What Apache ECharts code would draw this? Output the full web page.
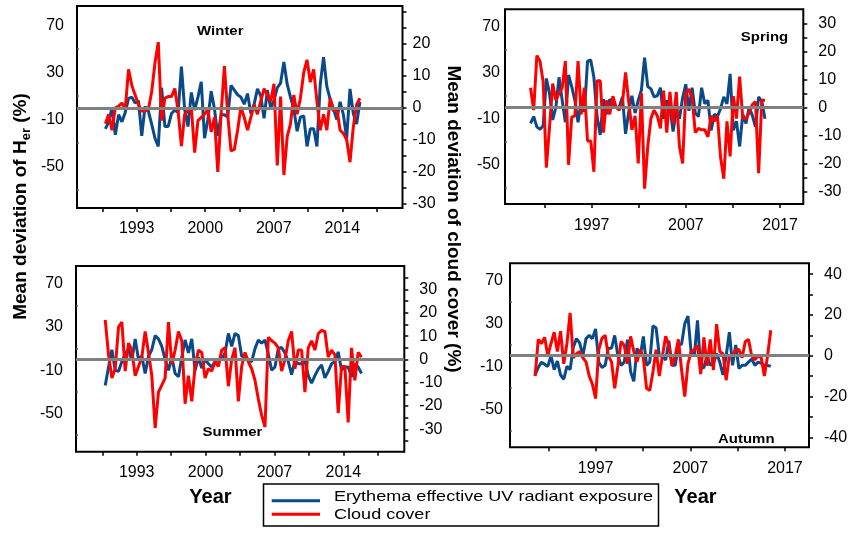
<!DOCTYPE html>
<html><head><meta charset="utf-8">
<script src="https://cdn.jsdelivr.net/npm/echarts@6/dist/echarts.min.js"></script>
<style>html,body{margin:0;padding:0;background:#fff}#c{width:851px;height:533px}</style>
</head><body><div id="c"></div>
<script>
const FONT = "'Liberation Sans', Arial, sans-serif";
const BLUE = '#0B4A8A', RED = '#FF0000';

// ---- data ----
const seriesNames = ['Erythema effective UV radiant exposure', 'Cloud cover'];
const panelTitles = ['Winter', 'Spring', 'Summer', 'Autumn'];

const winterSpan = [1989.8, 2015.8];
const winterUV = [-18,-12,0,-23,-6,-12,-4,8,9,4, 6,-24,1,-3,-14,-26,-33,17,-16,-16, -5,-2,-4,35,-2,-16,13,-2,9,22, -26,-10,14,-1,-24,-6,-6,-8,19,15, 11,9,3,12,-5,3,16,10,-9,15, 0,6,17,21,39,20,9,-1,-20,-8, -7,-33,-18,-18,-33,20,43,18,7,-1, -10,5,-6,-26,16,-5,-14,5];
const winterCloud = [-5,-2,-7,0,0.5,1.5,-0.5,12,7,4, 1,-1,-1,-0.5,5,14,20.5,-4,3,3.5, 3.5,6,-1,-12,-2,-1,0,-14,-4,-3, -2,-0.5,-7.5,-3,-20,-2,13,-2,-13.5,-13, -7,0.3,-3,-7,-3,1,-2,2,6,4, 2,7.5,-18,3.5,-21,-9,-5,4,-2,3, 11,15,8,12,2,-7,-2,-7,3,-1, 0,-7,-8,-10,-17,-6,1,3];

const springSpan = [1990.5, 2015.4];
const springUV = [-14,-8,-17,-19,-16,25,12,-11,0,26, 6,-13,28,18,6,-13,6,-4,40,41, 26,-8,-24,7,-6,7,3,0,0,9, -23,-4,10,-5,6,15,43,18,16,9, 10,17,-10,6,0,-21,-3,-10,8,20, -3,17,-5,-8,17,3,6,-20,-6,-8, -1,9,3,29,-20,-12,-34,-6,-14,0, -7,-17,9,5,-10];
const springCloud = [7,-1,18.5,16.5,9,-21.5,-7,8.5,2.5,5, 7,16.5,-20.5,-3.5,-3,16.5,-2.5,7,-12,-12, -23,9.5,9.5,-9,2.5,-2.5,4,0,-1,1.5, 12.5,2,-8,-3,-20,5,-29,-14,-4,-1, -3,-7.5,6,-9,5.5,-6,5.5,-14,-20,5, 6.5,3.5,-9,-7.5,-8,-8,-10.5,-3,-5,-3, -18,-25.5,-5,-17.5,4,-4,11,-4,-4,-2, 1,2,-23.5,2.5,2.5];

const summerSpan = [1989.8, 2015.85];
const summerUV = [-24,-7,9,-10,-11,-2,5,10,-1,19, 0,3,-13,3,9,22,19,12,0,-10, 2,-13,-16,2,18,6,19,-10,2,-8, 0,-4,-7,-2,0,0,6,24,12,24, 22,3,3,-1,-2,10,18,15,18,5, -10,-7,10,11,6,-2,-14,-1,-4,-4, -1,-15,-22,-15,-9,-5,-17,-11,-4,-2, 7,-10,-7,-7,-16,-4,-7,-13];
const summerCloud = [17,2,-8,-4,14,16,-5,7,4,-7, -3,1,12,3,-7,-29.5,-14,-11,-8,16, -2,4,12,8,-19,-7,-18,-3,4,3, -8,-4,-5,-1,-3,4,5,-11.5,0,5, -18,-3,3,-1,-4,-9,-17,-24,-29,9.5, 8,7,5,-5,0,8,12,-4,4,4, -14,5,8,4,11,12.5,12,1,4,2, -23,-3,-3,-27,5,-9,3,1];

const autumnSpan = [1990.6, 2015.5];
const autumnUV = [-18,-11,-6,-8,-10,0,-13,-5,-18,-22, -10,-13,8,16,12,0,16,19,16,25, -6,-11,-9,7,7,19,0,-9,-6,15, -15,-24,7,-1,18,-9,-6,28,26,0, 0,-4,14,-9,-9,10,11,30,37,3, 0,33,-12,-11,0,-9,-7,2,-6,-18, 0,22,-9,10,-12,-9,-9,-6,-3,-9, -6,-7,-9,-9,-10];
const autumnCloud = [-10,8,6,9,0,6,11.5,2,12,-4, 6,21,-1,1,2,-1,-3,-10,-14,-21, 3,8.5,10,0,-3,-16,-5,7,5,-4, 9.5,2,-3,3,-1,-16,-17,-8,3,-10, 0,9.5,5,-5,0,8,-7,-20,-4,2, 3,5,-9,9,-5,8,-7,15.5,2,1, -12,0,0,3,3,-1,7,8,0,-2, 0,-1,-10,0,12.5];

// tick labels
const xTicksA = [1989.5,1993,1996.5,2000,2003.5,2007,2010.5,2014,2017.5];
const xLabelsA = [1993,2000,2007,2014];
const xTicksB = [1992,1997,2002,2007,2012,2017];
const xLabelsB = [1997,2007,2017];
const leftLabels = [70,30,-10,-50];
const leftTicks = [50,10,-30,-70];
const winterRightLabels = [20,10,0,-10,-20,-30];
const springRightLabels = [30,20,10,0,-10,-20,-30];
const summerRightLabels = [30,20,10,0,-10,-20,-30];
const autumnRightLabels = [40,20,0,-20,-40];
const winterRightTicks = [-30,-25,-20,-15,-10,-5,0,5,10,15,20,25,30];
const springRightTicks = [-30,-25,-20,-15,-10,-5,0,5,10,15,20,25,30];
const summerRightTicks = [-35,-30,-25,-20,-15,-10,-5,0,5,10,15,20,25,30,35];
const autumnRightTicks = [-40,-30,-20,-10,0,10,20,30,40];

// ---- layout ----
const panels = [
  {uv: winterUV, cloud: winterCloud, span: winterSpan,
   grid: {left: 77, top: 6, width: 325.5, height: 202},
   x: [1986.9, 2020.15], xt: xTicksA, xl: xLabelsA,
   yl: [-85.4, 86.6], yr: [-31.3, 31.8], rl: winterRightLabels, rt: winterRightTicks,
   lm: 13, rm: 10, xm: 13},
  {uv: springUV, cloud: springCloud, span: springSpan,
   grid: {left: 505, top: 9.3, width: 298.3, height: 194.7},
   x: [1987.79, 2019.47], xt: xTicksB, xl: xLabelsB,
   yl: [-83.9, 85], yr: [-34.5, 35], rl: springRightLabels, rt: springRightTicks,
   lm: 5, rm: 15, xm: 14},
  {uv: summerUV, cloud: summerCloud, span: summerSpan,
   grid: {left: 76, top: 266, width: 328.3, height: 185.7},
   x: [1986.83, 2020.2], xt: xTicksA, xl: xLabelsA,
   yl: [-85.2, 86.3], yr: [-39.6, 40.1], rl: summerRightLabels, rt: summerRightTicks,
   lm: 13, rm: 15, xm: 13},
  {uv: autumnUV, cloud: autumnCloud, span: autumnSpan,
   grid: {left: 510, top: 263.3, width: 299, height: 184},
   x: [1987.95, 2019.54], xt: xTicksB, xl: xLabelsB,
   yl: [-85.6, 86.4], yr: [-44.9, 45.3], rl: autumnRightLabels, rt: autumnRightTicks,
   lm: 7, rm: 15, xm: 13}
];

const fmt = v => String(Math.round(v));
const grids = [], xAxes = [], yAxes = [], series = [];
panels.forEach((p, k) => {
  grids.push(Object.assign({show: true, borderColor: '#000', borderWidth: 2, backgroundColor: 'transparent'}, p.grid));
  xAxes.push({type: 'value', gridIndex: k, min: p.x[0], max: p.x[1], position: 'bottom',
    axisLine: {show: false, onZero: false}, splitLine: {show: false},
    axisTick: {show: true, inside: false, length: 4, customValues: p.xt, lineStyle: {color: '#000', width: 1.5}},
    axisLabel: {customValues: p.xl, formatter: fmt, margin: p.xm, color: '#000', fontSize: 16, fontFamily: FONT}});
  yAxes.push({type: 'value', gridIndex: k, min: p.yl[0], max: p.yl[1], position: 'left',
    axisLine: {show: false}, splitLine: {show: false},
    axisTick: {show: true, inside: true, length: 2, customValues: leftTicks, lineStyle: {color: '#666', width: 1.5}},
    axisLabel: {customValues: leftLabels, formatter: fmt, margin: p.lm, color: '#000', fontSize: 16, fontFamily: FONT}});
  yAxes.push({type: 'value', gridIndex: k, min: p.yr[0], max: p.yr[1], position: 'right',
    axisLine: {show: false}, splitLine: {show: false},
    axisTick: {show: true, inside: false, length: 4, customValues: p.rt, lineStyle: {color: '#000', width: 1.5}},
    axisLabel: {customValues: p.rl, formatter: fmt, margin: p.rm, color: '#000', fontSize: 16, fontFamily: FONT}});
  const n1 = p.uv.length, n2 = p.cloud.length;
  const t = (i, n) => p.span[0] + i * (p.span[1] - p.span[0]) / (n - 1);
  series.push({name: seriesNames[0], type: 'line', xAxisIndex: k, yAxisIndex: 2 * k,
    data: p.uv.map((v, i) => [t(i, n1), v]), showSymbol: false, symbol: 'none',
    lineStyle: {color: BLUE, width: 3}, itemStyle: {color: BLUE}, z: 2});
  series.push({name: seriesNames[1], type: 'line', xAxisIndex: k, yAxisIndex: 2 * k + 1,
    data: p.cloud.map((v, i) => [t(i, n2), v]), showSymbol: false, symbol: 'none',
    lineStyle: {color: RED, width: 3}, itemStyle: {color: RED}, z: 3,
    markLine: {silent: true, symbol: ['none', 'none'], label: {show: false},
      lineStyle: {color: '#808080', width: 3, type: 'solid'}, data: [{yAxis: 0}]}});
});

// ---- text helpers ----
const cv = document.createElement('canvas').getContext('2d');
function tw(text, font) { cv.font = font; return cv.measureText(text).width; }

const titleFont = 'bold 19px ' + FONT;
const subFont = 'bold 13px ' + FONT;
const w1 = tw('Mean deviation of H', titleFont), w2 = tw('er', subFont), w3 = tw(' (%)', titleFont);
const tot = w1 + w2 + w3;

const legFont = '15px ' + FONT;
const legW1 = tw(seriesNames[0], legFont);

const panelTitlePos = [[220.3, 31.7], [764.5, 37.3], [232.5, 432.3], [746.3, 439.3]];

const graphics = [];
panelTitles.forEach((s, i) => graphics.push({type: 'text', x: panelTitlePos[i][0], y: panelTitlePos[i][1], scaleX: 1.15,
  style: {text: s, font: 'bold 13px ' + FONT, fill: '#000', textAlign: 'center', textVerticalAlign: 'middle', align: 'center', verticalAlign: 'middle'}}));

graphics.push({type: 'group', x: 21, y: 206.5, rotation: Math.PI / 2, children: [
  {type: 'text', x: -tot / 2, y: 0, style: {text: 'Mean deviation of H', font: titleFont, fill: '#000', textAlign: 'left', textVerticalAlign: 'middle', align: 'left', verticalAlign: 'middle'}},
  {type: 'text', x: -tot / 2 + w1, y: 5, style: {text: 'er', font: subFont, fill: '#000', textAlign: 'left', textVerticalAlign: 'middle', align: 'left', verticalAlign: 'middle'}},
  {type: 'text', x: -tot / 2 + w1 + w2, y: 0, style: {text: ' (%)', font: titleFont, fill: '#000', textAlign: 'left', textVerticalAlign: 'middle', align: 'left', verticalAlign: 'middle'}}
]});
graphics.push({type: 'text', x: 453, y: 219, rotation: -Math.PI / 2,
  style: {text: 'Mean deviation of cloud cover (%)', font: titleFont, fill: '#000', textAlign: 'center', textVerticalAlign: 'middle', align: 'center', verticalAlign: 'middle'}});
[[210.5, 497], [695.5, 497]].forEach(p => graphics.push({type: 'text', x: p[0], y: p[1],
  style: {text: 'Year', font: 'bold 20px ' + FONT, fill: '#000', textAlign: 'center', textVerticalAlign: 'middle', align: 'center', verticalAlign: 'middle'}}));

// legend box
graphics.push({type: 'rect', shape: {x: 263.5, y: 484, width: 395, height: 42}, style: {fill: '#fff', stroke: '#000', lineWidth: 1.5}});
graphics.push({type: 'line', shape: {x1: 271.7, y1: 500.7, x2: 320, y2: 500.7}, style: {stroke: BLUE, lineWidth: 3}});
graphics.push({type: 'line', shape: {x1: 271.7, y1: 514.3, x2: 320, y2: 514.3}, style: {stroke: RED, lineWidth: 3}});
const legScale = 319 / legW1;
graphics.push({type: 'text', x: 334, y: 497, scaleX: legScale,
  style: {text: seriesNames[0], font: legFont, fill: '#000', textAlign: 'left', textVerticalAlign: 'middle', align: 'left', verticalAlign: 'middle'}});
graphics.push({type: 'text', x: 334, y: 515, scaleX: legScale,
  style: {text: seriesNames[1], font: legFont, fill: '#000', textAlign: 'left', textVerticalAlign: 'middle', align: 'left', verticalAlign: 'middle'}});

const chart = echarts.init(document.getElementById('c'), null, {renderer: 'canvas'});
chart.setOption({
  animation: false,
  backgroundColor: '#fff',
  grid: grids, xAxis: xAxes, yAxis: yAxes, series: series,
  graphic: {elements: graphics}
});
</script></body></html>
